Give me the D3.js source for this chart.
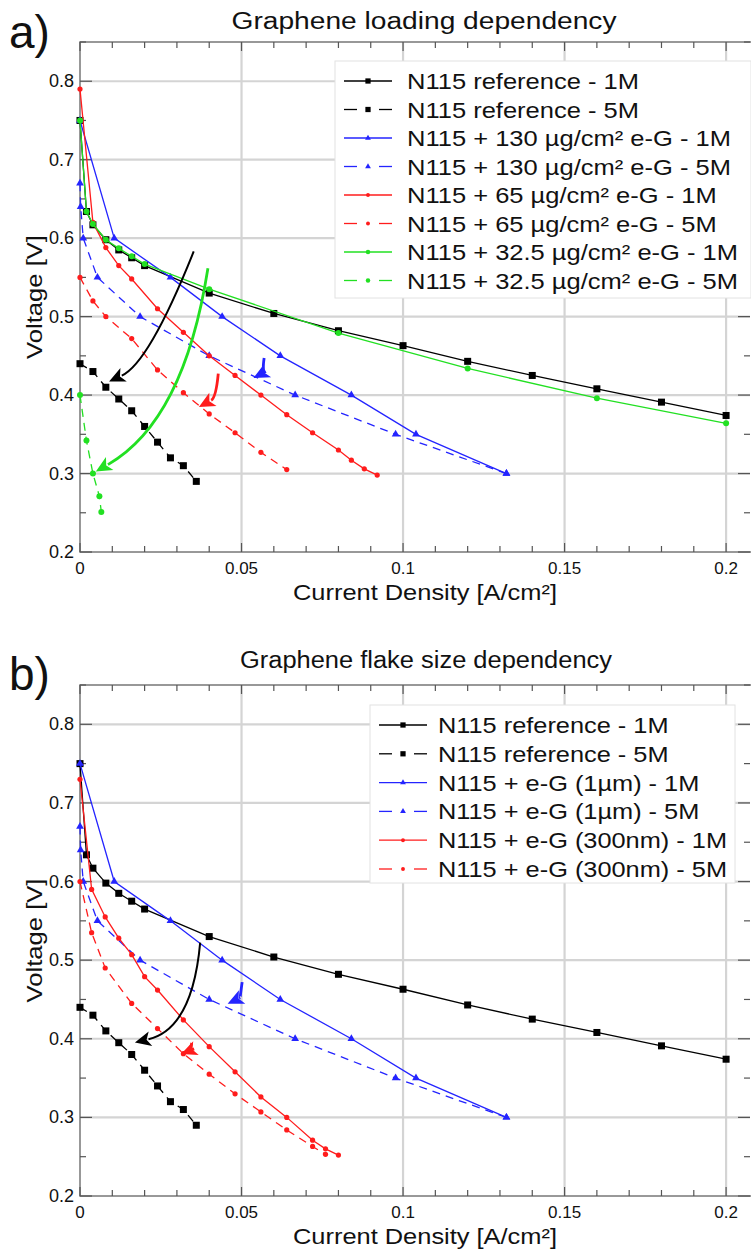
<!DOCTYPE html>
<html>
<head>
<meta charset="utf-8">
<script src="https://cdn.jsdelivr.net/npm/d3@7"></script>
<style>
  body { margin: 0; background: #fff; }
  text { font-family: "Liberation Sans", Arial, sans-serif; fill: #111; }
</style>
</head>
<body>
<script>
var w = 751;
var h = 1251;

// current density [A/cm2] and voltage [V]
var ref1M_I = [0, 0.002, 0.004, 0.008, 0.012, 0.016, 0.02, 0.04, 0.06, 0.08, 0.1, 0.12, 0.14, 0.16, 0.18, 0.2];
var ref1M_V = [0.75, 0.634, 0.617, 0.598, 0.585, 0.575, 0.565, 0.53, 0.504, 0.482, 0.463, 0.443, 0.425, 0.408, 0.391, 0.374];
var ref5M_I = [0, 0.004, 0.008, 0.012, 0.016, 0.02, 0.024, 0.028, 0.032, 0.036];
var ref5M_V = [0.44, 0.43, 0.41, 0.395, 0.38, 0.36, 0.34, 0.32, 0.31, 0.29];

var g130_1M_I = [0, 0.0106, 0.028, 0.044, 0.062, 0.084, 0.104, 0.132];
var g130_1M_V = [0.75, 0.6, 0.55, 0.5, 0.45, 0.4, 0.35, 0.3];
var g130_5M_I = [0, 0.0002, 0.001, 0.0054, 0.0186, 0.04, 0.0666, 0.0977, 0.132];
var g130_5M_V = [0.67, 0.64, 0.6, 0.55, 0.5, 0.45, 0.4, 0.35, 0.3];

var g65_1M_I = [0, 0.004, 0.008, 0.012, 0.016, 0.024, 0.032, 0.04, 0.048, 0.056, 0.064, 0.072, 0.08, 0.084, 0.088, 0.092];
var g65_1M_V = [0.79, 0.62, 0.588, 0.565, 0.548, 0.51, 0.48, 0.45, 0.425, 0.4, 0.375, 0.352, 0.33, 0.317, 0.306, 0.298];
var g65_5M_I = [0, 0.004, 0.008, 0.016, 0.024, 0.032, 0.04, 0.048, 0.056, 0.064];
var g65_5M_V = [0.55, 0.52, 0.5, 0.472, 0.432, 0.403, 0.376, 0.352, 0.327, 0.305];

var g32_1M_I = [0, 0.002, 0.004, 0.008, 0.012, 0.016, 0.02, 0.04, 0.08, 0.12, 0.16, 0.2];
var g32_1M_V = [0.75, 0.634, 0.618, 0.598, 0.587, 0.577, 0.567, 0.535, 0.479, 0.434, 0.396, 0.364];
var g32_5M_I = [0, 0.002, 0.004, 0.006, 0.0066];
var g32_5M_V = [0.4, 0.342, 0.3, 0.271, 0.251];

var g1um_1M_I = g130_1M_I, g1um_1M_V = g130_1M_V;
var g1um_5M_I = g130_5M_I, g1um_5M_V = g130_5M_V;

var g300_1M_I = [0, 0.0036, 0.0078, 0.012, 0.016, 0.02, 0.024, 0.032, 0.04, 0.048, 0.056, 0.064, 0.072, 0.076, 0.08];
var g300_1M_V = [0.73, 0.59, 0.555, 0.528, 0.507, 0.479, 0.462, 0.424, 0.39, 0.358, 0.326, 0.3, 0.271, 0.26, 0.252];
var g300_5M_I = [0, 0.0036, 0.0078, 0.016, 0.024, 0.032, 0.04, 0.048, 0.056, 0.064, 0.072, 0.076];
var g300_5M_V = [0.6, 0.535, 0.49, 0.445, 0.413, 0.381, 0.355, 0.33, 0.307, 0.284, 0.263, 0.253];

var xTicks = [0, 0.05, 0.1, 0.15, 0.2];
var xTickLabels = ["0", "0.05", "0.1", "0.15", "0.2"];
var yTicks = [0.2, 0.3, 0.4, 0.5, 0.6, 0.7, 0.8];
var yTickLabels = ["0.2", "0.3", "0.4", "0.5", "0.6", "0.7", "0.8"];

var BLK = "#000000", BLU = "#2424ff", RED = "#ff1c1c", GRN = "#22e022";

var seriesA = [
  {name: "N115 reference - 1M", I: ref1M_I, V: ref1M_V, c: BLK, dash: false, m: "sq"},
  {name: "N115 reference - 5M", I: ref5M_I, V: ref5M_V, c: BLK, dash: true, m: "sq"},
  {name: "N115 + 130 µg/cm² e-G - 1M", I: g130_1M_I, V: g130_1M_V, c: BLU, dash: false, m: "tri"},
  {name: "N115 + 130 µg/cm² e-G - 5M", I: g130_5M_I, V: g130_5M_V, c: BLU, dash: true, m: "tri"},
  {name: "N115 + 65 µg/cm² e-G - 1M", I: g65_1M_I, V: g65_1M_V, c: RED, dash: false, m: "dot"},
  {name: "N115 + 65 µg/cm² e-G - 5M", I: g65_5M_I, V: g65_5M_V, c: RED, dash: true, m: "dot"},
  {name: "N115 + 32.5 µg/cm² e-G - 1M", I: g32_1M_I, V: g32_1M_V, c: GRN, dash: false, m: "circ"},
  {name: "N115 + 32.5 µg/cm² e-G - 5M", I: g32_5M_I, V: g32_5M_V, c: GRN, dash: true, m: "circ"}
];
var seriesB = [
  {name: "N115 reference - 1M", I: ref1M_I, V: ref1M_V, c: BLK, dash: false, m: "sq"},
  {name: "N115 reference - 5M", I: ref5M_I, V: ref5M_V, c: BLK, dash: true, m: "sq"},
  {name: "N115 + e-G (1µm) - 1M", I: g1um_1M_I, V: g1um_1M_V, c: BLU, dash: false, m: "tri"},
  {name: "N115 + e-G (1µm) - 5M", I: g1um_5M_I, V: g1um_5M_V, c: BLU, dash: true, m: "tri"},
  {name: "N115 + e-G (300nm) - 1M", I: g300_1M_I, V: g300_1M_V, c: RED, dash: false, m: "dot"},
  {name: "N115 + e-G (300nm) - 5M", I: g300_5M_I, V: g300_5M_V, c: RED, dash: true, m: "dot"}
];

// curved arrows: start, control, end in data units
var arrowsA = [
  {c: BLK, sw: 2, p: [[0.0352, 0.583], [0.0214, 0.441], [0.009, 0.4173]]},
  {c: GRN, sw: 2.8, p: [[0.0396, 0.5616], [0.0322, 0.3672], [0.0049, 0.3025]]},
  {c: RED, sw: 2.8, p: [[0.0428, 0.4273], [0.0421, 0.3967], [0.0368, 0.3847]]},
  {c: BLU, sw: 2.8, p: [[0.057, 0.4472], [0.0563, 0.4273], [0.0537, 0.4217]]}
];
var arrowsB = [
  {c: BLK, sw: 2, p: [[0.0372, 0.5223], [0.0348, 0.413], [0.017, 0.3951]]},
  {c: BLU, sw: 2.8, p: [[0.0502, 0.4721], [0.0495, 0.4519], [0.0457, 0.4446]]},
  {c: RED, sw: 2.8, p: [[0.0346, 0.3946], [0.0337, 0.3845], [0.0313, 0.3806]]}
];

var svg = d3.select("body").append("svg").attr("width", w).attr("height", h);

drawPanel({top: 42, bottom: 552, letter: "a)", letterY: 48, title: "Graphene loading dependency",
  titleX: 424, titleY: 29, titleW: 385,
  series: seriesA, arrows: arrowsA, legend: {x: 335, y: 61, w: 416, h: 237, rowH: 28.5, tx: 407, tw: 331}});
drawPanel({top: 685, bottom: 1196, letter: "b)", letterY: 690, title: "Graphene flake size dependency",
  titleX: 426, titleY: 668, titleW: 372,
  series: seriesB, arrows: arrowsB, legend: {x: 370, y: 705, w: 365, h: 178, rowH: 28.8, tx: 438, tw: 289}});

// stretch text to a width
function fit(t, width) {
  t.attr("textLength", width).attr("lengthAdjust", "spacingAndGlyphs");
}

function drawPanel(o) {
  var left = 80, right = 750;
  var x = d3.scaleLinear().domain([0, 0.2074]).range([left, right]);
  var y = d3.scaleLinear().domain([0.2, 0.85]).range([o.bottom, o.top]);
  var g = svg.append("g");

  g.append("text").text(o.letter).attr("x", 9).attr("y", o.letterY)
    .attr("font-size", 46);
  var tt = g.append("text").text(o.title).attr("x", o.titleX).attr("y", o.titleY)
    .attr("text-anchor", "middle").attr("font-size", 23);
  fit(tt, o.titleW);

  // grid
  g.selectAll(".gx").data(xTicks.slice(1)).enter().append("line")
    .attr("x1", d => x(d)).attr("x2", d => x(d)).attr("y1", o.top).attr("y2", o.bottom)
    .attr("stroke", "#d4d4d4").attr("stroke-width", 2.2);
  g.selectAll(".gy").data(yTicks.slice(1)).enter().append("line")
    .attr("x1", left).attr("x2", right).attr("y1", d => y(d)).attr("y2", d => y(d))
    .attr("stroke", "#d4d4d4").attr("stroke-width", 2.2);

  // frame
  g.append("rect").attr("x", left).attr("y", o.top).attr("width", right - left + 4)
    .attr("height", o.bottom - o.top).attr("fill", "none").attr("stroke", "#777").attr("stroke-width", 1.5);

  // ticks, pointing inward on all sides
  var xMinor = d3.range(0, 0.2075, 0.01);
  xMinor.forEach(function (d) {
    var major = Math.abs(d / 0.05 - Math.round(d / 0.05)) < 1e-6;
    var len = major ? 9 : 6;
    g.append("line").attr("x1", x(d)).attr("x2", x(d)).attr("y1", o.top).attr("y2", o.top + len)
      .attr("stroke", "#555").attr("stroke-width", 1.2);
    g.append("line").attr("x1", x(d)).attr("x2", x(d)).attr("y1", o.bottom).attr("y2", o.bottom - len)
      .attr("stroke", "#555").attr("stroke-width", 1.2);
  });
  var yMinor = d3.range(0.2, 0.851, 0.05);
  yMinor.forEach(function (d) {
    var major = Math.abs(d * 10 - Math.round(d * 10)) < 1e-6;
    var len = major ? 12 : 6;
    g.append("line").attr("x1", left).attr("x2", left + len).attr("y1", y(d)).attr("y2", y(d))
      .attr("stroke", "#555").attr("stroke-width", 1.2);
    g.append("line").attr("x1", right).attr("x2", right - len).attr("y1", y(d)).attr("y2", y(d))
      .attr("stroke", "#555").attr("stroke-width", 1.2);
  });

  // tick labels
  g.selectAll(".xl").data(xTicks).enter().append("text")
    .text((d, i) => xTickLabels[i]).attr("x", d => x(d)).attr("y", o.bottom + 22)
    .attr("text-anchor", "middle").attr("font-size", 17);
  g.selectAll(".yl").data(yTicks).enter().append("text")
    .text((d, i) => yTickLabels[i]).attr("x", left - 6).attr("y", d => y(d) + 6)
    .attr("text-anchor", "end").attr("font-size", 18);

  var xt = g.append("text").text("Current Density [A/cm²]").attr("x", 425).attr("y", o.bottom + 48)
    .attr("text-anchor", "middle").attr("font-size", 22);
  fit(xt, 264);
  var yt = g.append("text").text("Voltage [V]")
    .attr("transform", "translate(42," + ((o.top + o.bottom) / 2) + ") rotate(-90)")
    .attr("text-anchor", "middle").attr("font-size", 22);
  fit(yt, 124);

  // series
  var plot = g.append("g");
  o.series.forEach(function (s) {
    var pts = s.I.map((v, i) => [v, s.V[i]]);
    plot.append("path").datum(pts)
      .attr("d", d3.line().x(d => x(d[0])).y(d => y(d[1])))
      .attr("fill", "none").attr("stroke", s.c).attr("stroke-width", 1.3)
      .attr("stroke-dasharray", s.dash ? "8,6" : null);
    pts.forEach(function (d) { marker(plot, s.m, x(d[0]), y(d[1]), s.c); });
  });

  // arrows
  o.arrows.forEach(function (a) {
    var P = a.p.map(d => [x(d[0]), y(d[1])]);
    var dx = P[2][0] - P[1][0], dy = P[2][1] - P[1][1];
    var L = Math.sqrt(dx * dx + dy * dy); dx /= L; dy /= L;
    var head = 16, hw = 7.5;
    var bx = P[2][0] - dx * head, by = P[2][1] - dy * head;
    g.append("path")
      .attr("d", "M" + P[0] + "Q" + P[1] + " " + (bx + dx * 2) + "," + (by + dy * 2))
      .attr("fill", "none").attr("stroke", a.c).attr("stroke-width", a.sw);
    g.append("path")
      .attr("d", "M" + P[2] + "L" + (bx - dy * hw) + "," + (by + dx * hw) + "L" + (bx + dx * 4) + "," + (by + dy * 4)
        + "L" + (bx + dy * hw) + "," + (by - dx * hw) + "Z")
      .attr("fill", a.c);
  });

  // legend
  var lg = o.legend;
  var lb = g.append("g");
  lb.append("rect").attr("x", lg.x).attr("y", lg.y).attr("width", lg.w)
    .attr("height", lg.h).attr("fill", "#fff").attr("stroke", "#e2e2e2");
  var texts = [];
  o.series.forEach(function (s, i) {
    var cy = lg.y + 20 + i * lg.rowH;
    var x0 = lg.x + 9, x1 = lg.x + 57;
    if (s.dash) {
      lb.append("line").attr("x1", x0).attr("x2", x0 + 13).attr("y1", cy).attr("y2", cy)
        .attr("stroke", s.c).attr("stroke-width", 1.3);
      lb.append("line").attr("x1", x1 - 13).attr("x2", x1).attr("y1", cy).attr("y2", cy)
        .attr("stroke", s.c).attr("stroke-width", 1.3);
    } else {
      lb.append("line").attr("x1", x0).attr("x2", x1).attr("y1", cy).attr("y2", cy)
        .attr("stroke", s.c).attr("stroke-width", 1.3);
    }
    marker(lb, s.m, (x0 + x1) / 2, cy, s.c, 0.75);
    texts.push(lb.append("text").text(s.name).attr("x", lg.tx).attr("y", cy + 8).attr("font-size", 22));
  });
  // common horizontal stretch so the longest label spans the measured width
  var longest = d3.max(texts, t => t.node().getComputedTextLength());
  var k = lg.tw / longest;
  texts.forEach(function (t) { fit(t, t.node().getComputedTextLength() * k); });
}

function marker(sel, type, cx, cy, c, k) {
  k = k || 1;
  if (type === "sq") {
    sel.append("rect").attr("x", cx - 3.5 * k).attr("y", cy - 3.5 * k).attr("width", 7 * k).attr("height", 7 * k).attr("fill", c);
  } else if (type === "tri") {
    sel.append("path").attr("d", d3.symbol(d3.symbolTriangle, 26 * k * k)()).attr("transform", "translate(" + cx + "," + cy + ")").attr("fill", c);
  } else if (type === "dot") {
    sel.append("circle").attr("cx", cx).attr("cy", cy).attr("r", 2.6 * k).attr("fill", c);
  } else {
    sel.append("circle").attr("cx", cx).attr("cy", cy).attr("r", 3 * k).attr("fill", c);
  }
}
</script>
</body>
</html>
